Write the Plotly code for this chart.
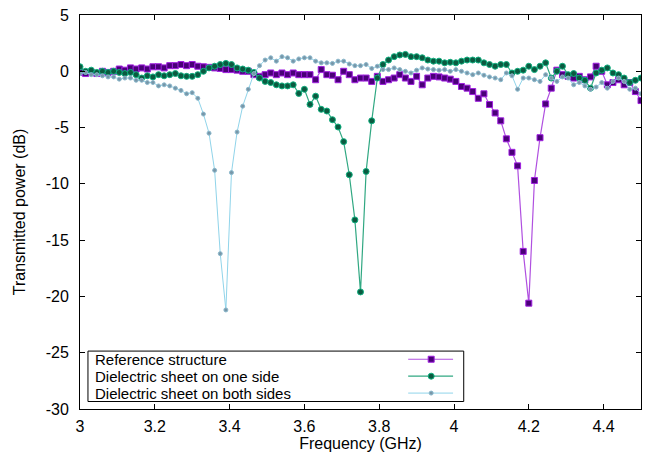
import plotly.graph_objects as go

# Frequency grid (GHz)
freq = [round(3.0 + 0.015 * i, 3) for i in range(101)]

ref_structure = [
    -0.1, -0.2, -0.1, -0.2, 0.0, -0.1, 0.0, 0.2, 0.1, 0.3,
    0.2, 0.3, 0.2, 0.4, 0.4, 0.3, 0.5, 0.5, 0.6, 0.5,
    0.6, 0.45, 0.4, 0.35, 0.3, 0.25, 0.15, 0.15, 0.1, 0.0,
    0.0, -0.3, -0.45, -0.3, -0.15, -0.3, -0.15, -0.3, -0.15, -0.3,
    -0.3, -0.3, -0.75, 0.15, -0.3, -0.35, -0.75, 0.0, -0.3, -0.75,
    -0.6, -0.6, -0.9, -0.45, -0.9, -0.75, -0.6, -0.3, -0.6, -0.9,
    -0.45, -1.2, -0.6, -0.45, -0.5, -0.6, -0.7, -0.9, -1.35, -1.5,
    -1.8, -2.4, -2.0, -2.95, -3.7, -4.4, -6.0, -7.2, -8.4, -16.0,
    -20.6, -9.7, -5.9, -2.9, -1.5, 0.1, -0.3, -0.45, -0.6, -0.45,
    -0.75, -0.5, 0.45, 0.0, -1.2, -1.0, -0.75, -1.2, -1.0, -1.8,
    -2.6,
]

one_side = [
    0.4, 0.0, 0.1, -0.1, 0.0, -0.1, 0.0, -0.1, -0.2, -0.1,
    -0.3, -0.6, -0.4, -0.5, -0.3, -0.4, -0.3, -0.2, -0.4, -0.45,
    -0.45, -0.3, 0.0, 0.3, 0.45, 0.6, 0.7, 0.6, 0.3, 0.2,
    0.1, -0.1, -0.6, -0.9, -1.0, -1.2, -1.3, -1.3, -1.2, -1.97,
    -1.6, -2.94, -2.21, -3.38, -3.53, -4.3, -4.95, -6.25, -9.19, -13.2,
    -19.6, -8.9, -4.4, -0.6, 0.6, 1.0, 1.3, 1.45, 1.5, 1.3,
    1.3, 1.2, 1.0, 0.9, 0.9, 0.75, 0.8, 0.75, 0.9, 1.0,
    1.0, 1.0, 0.75, 0.6, 0.45, 0.6, 0.6, -0.15, 0.0, 0.1,
    0.45, 0.15, 0.45, 0.75, -0.6, 0.0, 0.45, -0.3, -0.2, -0.6,
    -0.8, -1.5, -0.15, 0.1, 0.3, -0.15, -0.3, -0.6, -1.0, -0.8,
    -0.6,
]

both_sides = [
    -0.2, -0.1, -0.3, -0.3, -0.4, -0.5, -0.5, -0.7, -0.6, -0.6,
    -0.8, -0.8, -1.0, -1.0, -1.3, -1.2, -1.3, -1.5, -1.7, -2.0,
    -1.9, -2.4, -3.8, -5.5, -8.8, -16.2, -21.2, -9.0, -5.4, -3.1,
    -1.6, -0.2, 0.5, 1.0, 1.2, 0.9, 1.3, 1.2, 0.9, 1.1,
    1.2, 1.2, 0.9, 0.75, 0.75, 0.7, 0.9, 0.9, 0.65, 0.5,
    0.5, 0.6, 0.25, 0.45, 0.15, 0.15, 0.3, 0.15, 0.0, -0.15,
    0.1, 0.3, 0.2, 0.15, 0.1, 0.15, 0.0, 0.15, 0.0, -0.15,
    -0.3, -0.15, -0.35, -0.5, -0.6, -0.75, -0.15, -0.4, -1.6, -0.6,
    -0.6, -0.75, -0.9, -0.3, -0.6, -0.9, -0.5, -0.6, -1.2, -1.0,
    -1.3, -1.6, -1.4, -1.0, -1.5, -0.9, -0.6, -0.9, -1.6, -1.5,
    -2.0,
]

series_names = [
    "Reference structure",
    "Dielectric sheet on one side",
    "Dielectric sheet on both sides",
]

x_tickvals = [3.0, 3.2, 3.4, 3.6, 3.8, 4.0, 4.2, 4.4]
x_ticktext = ["3", "3.2", "3.4", "3.6", "3.8", "4", "4.2", "4.4"]
y_tickvals = [5, 0, -5, -10, -15, -20, -25, -30]
y_ticktext = ["5", "0", "-5", "-10", "-15", "-20", "-25", "-30"]

styles = [
    dict(line="#b050e0", marker="#4a0078", outline="#a020e0", symbol="square", size=6, lw=1.2),
    dict(line="#30a882", marker="#0b5a40", outline="#10b080", symbol="circle", size=6, lw=1.2),
    dict(line="#90d4ea", marker="#7896a8", outline="#8ab8cc", symbol="circle", size=4, lw=1.0),
]

FONT = "Liberation Sans, Arial, sans-serif"
FS = 16

fig = go.Figure()
for name, ys, st in zip(series_names, [ref_structure, one_side, both_sides], styles):
    fig.add_trace(go.Scatter(
        x=freq, y=ys, mode="lines+markers", name=name, showlegend=False,
        line=dict(color=st["line"], width=st["lw"]),
        marker=dict(symbol=st["symbol"], size=st["size"], color=st["marker"],
                    line=dict(color=st["outline"], width=1)),
    ))

# gnuplot-style key (text left, sample right) in paper coordinates
shapes = [dict(type="rect", xref="paper", yref="paper", x0=0.0142, x1=0.684,
               y0=0.019, y1=0.147, line=dict(color="black", width=1), fillcolor="white",
               layer="above")]
annotations = []
key_y = [0.1263, 0.0833, 0.0404]
for name, st, ky in zip(series_names, styles, key_y):
    annotations.append(dict(xref="paper", yref="paper", x=0.024, y=ky, text=name,
                            showarrow=False, xanchor="left", yanchor="middle",
                            font=dict(family=FONT, size=15, color="black")))
    shapes.append(dict(type="line", xref="paper", yref="paper", x0=0.585, x1=0.665,
                       y0=ky, y1=ky, line=dict(color=st["line"], width=st["lw"]), layer="above"))
    half = st["size"] / 2
    shapes.append(dict(type="rect" if st["symbol"] == "square" else "circle",
                       xref="paper", yref="paper", xsizemode="pixel", ysizemode="pixel",
                       xanchor=0.626, yanchor=ky, x0=-half, x1=half, y0=-half, y1=half,
                       fillcolor=st["marker"], line=dict(color=st["outline"], width=1),
                       layer="above"))

axis_common = dict(showline=True, linecolor="black", linewidth=1, mirror="ticks",
                   ticks="inside", ticklen=5, tickcolor="black", showgrid=False,
                   zeroline=False, tickfont=dict(family=FONT, size=FS, color="black"))

fig.update_layout(
    width=649, height=462,
    margin=dict(l=80, r=7, t=13, b=53),
    paper_bgcolor="white", plot_bgcolor="white",
    xaxis=dict(range=[3, 4.5], tickvals=x_tickvals, ticktext=x_ticktext,
               ticklabelstandoff=3,
               title=dict(text="Frequency (GHz)", font=dict(family=FONT, size=FS, color="black"),
                          standoff=0),
               **axis_common),
    yaxis=dict(range=[-30, 5], tickvals=y_tickvals, ticktext=y_ticktext,
               ticklabelstandoff=7,
               title=dict(text="Transmitted power (dB)", font=dict(family=FONT, size=FS, color="black"),
                          standoff=16),
               **axis_common),
    shapes=shapes,
    annotations=annotations,
    showlegend=False,
)

fig.write_html("out.html")
